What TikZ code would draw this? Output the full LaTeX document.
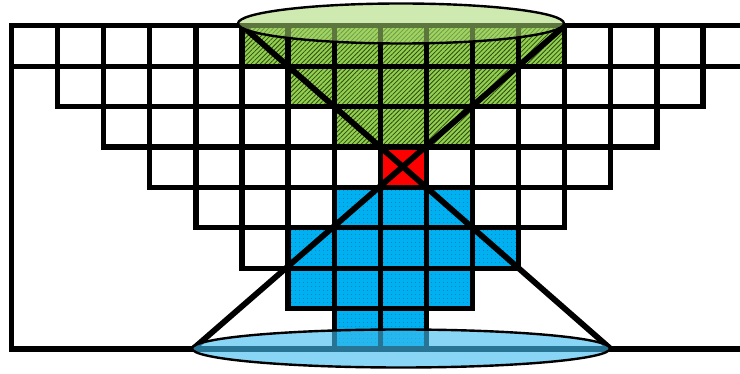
\documentclass[tikz,border=0pt]{standalone}
\usetikzlibrary{patterns.meta}
\definecolor{leaf}{HTML}{92D050}
\definecolor{leafdark}{HTML}{2F4A12}
\definecolor{lid}{HTML}{A8D870}
\definecolor{sky}{HTML}{00B0F0}
\definecolor{skydark}{HTML}{00567A}
\definecolor{pool}{HTML}{3FBCEF}
\tikzset{
  gridline/.style={draw=black, line width=5.3pt, line cap=rect},
  greencell/.style={fill=leaf, postaction={pattern={Lines[angle=45,distance=3.2pt,line width=0.8pt]}, pattern color=leafdark}},
  bluecell/.style={fill=sky, postaction={pattern={Dots[radius=0.4pt,distance=4pt]}, pattern color=skydark}},
  conemark/.style={draw=black, line width=5.8pt},
  lidshape/.style={draw=black, line width=2.4pt, fill=lid, fill opacity=0.55},
  poolshape/.style={draw=black, line width=2.4pt, fill=pool, fill opacity=0.62},
}
\begin{document}
\begin{tikzpicture}[x=1pt, y=-1pt]
\useasboundingbox (0,0) rectangle (740,374);
\def\dx{46.1}
\def\dy{40.4}
\def\xa{11.5}
\def\ya{25.8}
\newcommand{\gx}[1]{\xa+(#1)*\dx}
\newcommand{\gy}[1]{\ya+(#1)*\dy}
% --- coloured cells, rows counted from the top
\foreach \r/\from/\to in {0/5/12, 1/6/11, 2/7/10}
  \fill[greencell] ({\gx{\from}},{\gy{\r}}) rectangle ({\gx{\to}},{\gy{\r+1}});
\foreach \r/\from/\to in {4/7/10, 5/6/11, 6/6/10, 7/7/9}
  \fill[bluecell] ({\gx{\from}},{\gy{\r}}) rectangle ({\gx{\to}},{\gy{\r+1}});
\fill[red] ({\gx{8}},{\gy{3}}) rectangle ({\gx{9}},{\gy{4}});
% --- horizontal lines of the stair
\draw[gridline] (\xa,{\gy{0}}) -- (745,{\gy{0}});
\draw[gridline] (\xa,{\gy{1}}) -- (745,{\gy{1}});
\foreach \r/\from/\to in {2/1/15, 3/2/14, 4/3/13, 5/4/12, 6/5/11, 7/6/10}
  \draw[gridline] ({\gx{\from}},{\gy{\r}}) -- ({\gx{\to}},{\gy{\r}});
\draw[gridline] (\xa,{\gy{8}}) -- (745,{\gy{8}});
\draw[gridline] ({\gx{0}},{\gy{0}}) -- ({\gx{0}},{\gy{8}});
% --- vertical lines, each with its lowest row
\foreach \c/\r in {1/2, 2/3, 3/4, 4/5, 5/6, 6/7, 7/8, 8/8, 9/8, 10/7, 11/6, 12/5, 13/4, 14/3, 15/2}
  \draw[gridline] ({\gx{\c}},{\gy{0}}) -- ({\gx{\c}},{\gy{\r}});
% --- the two cones
\draw[conemark] ({\gx{5}},{\gy{0}}) -- ({\gx{13}},{\gy{8}});
\draw[conemark] ({\gx{12}},{\gy{0}}) -- ({\gx{4}-3},{\gy{8}});
\draw[lidshape] (401,23.5) ellipse [x radius=163, y radius=20];
\draw[poolshape] (401,348.5) ellipse [x radius=209, y radius=19];
\end{tikzpicture}
\end{document}
